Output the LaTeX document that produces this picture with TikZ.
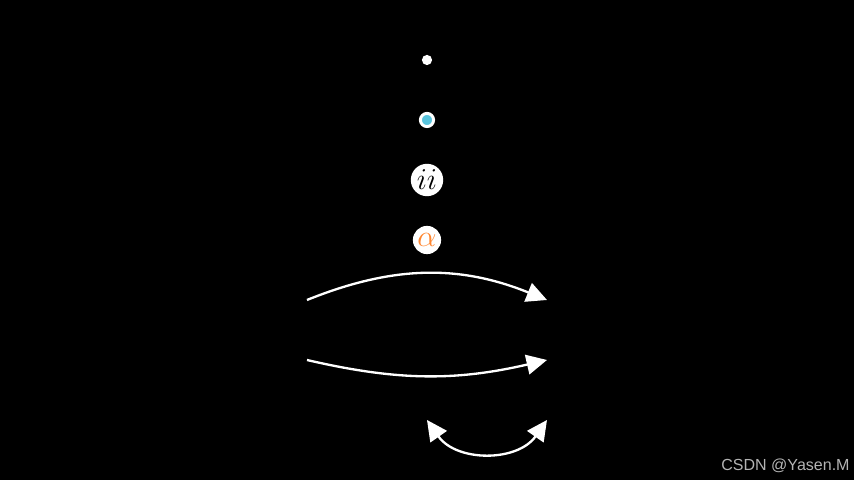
\documentclass[tikz,border=0pt]{standalone}
\usepackage{fontspec}
\newfontfamily\wmfont{Liberation Sans}
\usetikzlibrary{arrows.meta,positioning}
\definecolor{cyn}{HTML}{58C4DD}
\definecolor{org}{HTML}{FF862F}
\definecolor{wmgray}{HTML}{B4B4B4}
\tikzset{
  dotnode/.style={circle, fill=white, inner sep=0pt, minimum size=0.17cm},
  ringnode/.style={circle, draw=white, line width=1.4pt, fill=cyn, inner sep=0pt, minimum size=0.22cm},
  lbl/.style={circle, fill=white, inner sep=0pt},
  arr/.style={-{Triangle[length=0.34cm,width=0.33cm]}, white, line width=1.1pt},
  darr/.style={{Triangle[length=0.34cm,width=0.33cm]}-{Triangle[length=0.34cm,width=0.33cm]}, white, line width=1.1pt},
}

\begin{document}
\begin{tikzpicture}
 \fill[black] (-7.1167,-4) rectangle (7.1167,4);
 \useasboundingbox (-7.1167,-4) rectangle (7.1167,4);
 % nodes
 \node[dotnode] (pt) at (0,3) {};
 \node[ringnode] (rg) at (0,2) {};
 \node[lbl, minimum size=0.54cm] (ii) at (0,1) {\Large $ii$};
 \node[lbl, minimum size=0.47cm] (al) at (0,0) {\Large $\color{org}\alpha$};
 % arrows
 \coordinate (l1) at (-2,-1);
 \coordinate (r1) at (2,-1);
 \coordinate (l2) at (-2,-2);
 \coordinate (r2) at (2,-2);
 \coordinate (l3) at (0,-3);
 \coordinate (r3) at (2,-3);
 \draw[arr] (l1) to[bend left=22] (r1);
 \draw[arr] (l2) to[bend right=13] (r2);
 \draw[darr] (l3) to[bend right=55, looseness=1.1] (r3);
 \node[anchor=base east, inner sep=0pt, wmgray, font=\wmfont\fontsize{7.6}{9}\selectfont] (wm) at (7.05,-3.85) {CSDN @Yasen.M};
\end{tikzpicture}
\end{document}
